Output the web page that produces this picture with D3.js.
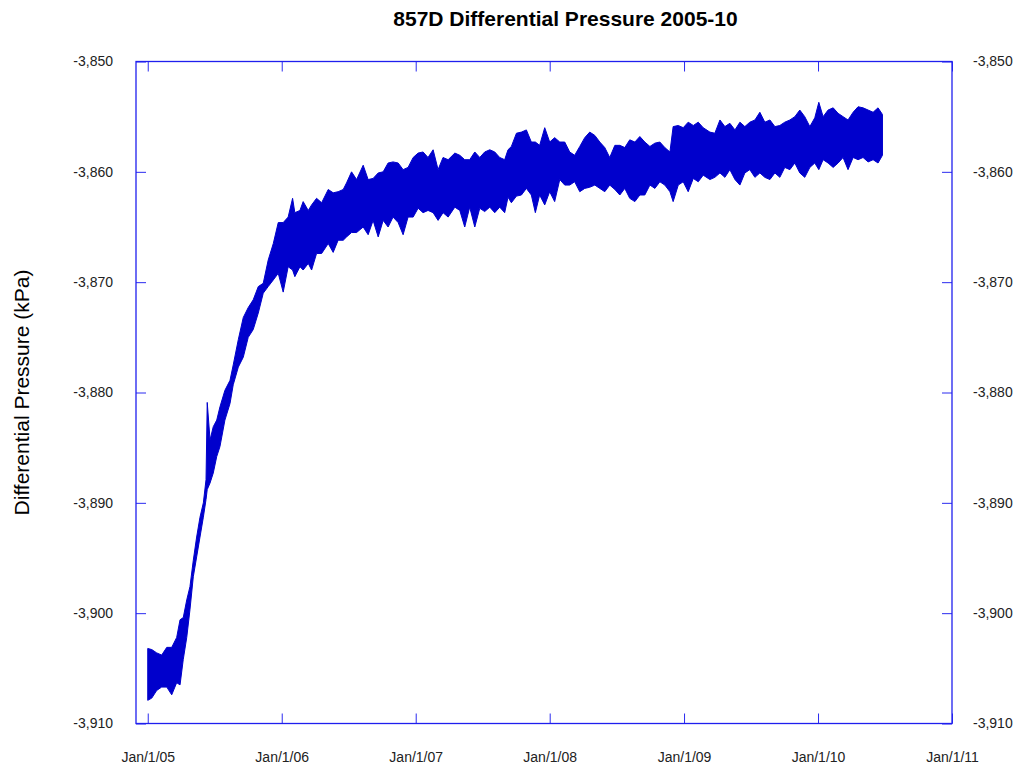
<!DOCTYPE html>
<html>
<head>
<meta charset="utf-8">
<script src="https://cdn.jsdelivr.net/npm/d3@7"></script>
<style>
  body { margin: 0; background: #fff; }
  text { font-family: "Liberation Sans", Arial, sans-serif; }
</style>
</head>
<body>
<div id="chart"></div>
<script>
// decimal years of each reading, with the band's upper / lower edge (kPa)
const years = [
  2005.000, 2005.030, 2005.067, 2005.104, 2005.142, 2005.179, 2005.216, 2005.241, 2005.265, 2005.291,
  2005.315, 2005.340, 2005.365, 2005.390, 2005.415, 2005.435, 2005.444, 2005.465, 2005.489, 2005.515,
  2005.539, 2005.576, 2005.614, 2005.638, 2005.676, 2005.713, 2005.750, 2005.787, 2005.825, 2005.862,
  2005.899, 2005.937, 2005.974, 2006.011, 2006.048, 2006.081, 2006.098, 2006.136, 2006.160, 2006.198,
  2006.223, 2006.260, 2006.298, 2006.347, 2006.384, 2006.421, 2006.459, 2006.484, 2006.521, 2006.559,
  2006.608, 2006.645, 2006.682, 2006.720, 2006.757, 2006.794, 2006.831, 2006.869, 2006.906, 2006.943,
  2006.981, 2007.018, 2007.055, 2007.092, 2007.130, 2007.167, 2007.204, 2007.242, 2007.292, 2007.329,
  2007.366, 2007.403, 2007.441, 2007.478, 2007.515, 2007.553, 2007.590, 2007.627, 2007.664, 2007.689,
  2007.714, 2007.752, 2007.789, 2007.826, 2007.863, 2007.893, 2007.925, 2007.963, 2008.000, 2008.037,
  2008.075, 2008.112, 2008.149, 2008.186, 2008.224, 2008.261, 2008.298, 2008.336, 2008.373, 2008.410,
  2008.447, 2008.485, 2008.522, 2008.559, 2008.596, 2008.634, 2008.671, 2008.708, 2008.746, 2008.783,
  2008.820, 2008.857, 2008.895, 2008.919, 2008.957, 2008.994, 2009.031, 2009.069, 2009.106, 2009.143,
  2009.193, 2009.230, 2009.268, 2009.305, 2009.342, 2009.380, 2009.417, 2009.454, 2009.491, 2009.529,
  2009.566, 2009.603, 2009.641, 2009.678, 2009.715, 2009.752, 2009.790, 2009.827, 2009.864, 2009.901,
  2009.939, 2009.976, 2010.006, 2010.038, 2010.075, 2010.113, 2010.150, 2010.187, 2010.224, 2010.262,
  2010.299, 2010.336, 2010.374, 2010.411, 2010.448, 2010.481
];
const upper = [
  -3903.2, -3903.3, -3903.6, -3903.8, -3903.1, -3903.1, -3902.2, -3900.6, -3900.4, -3898.8,
  -3897.6, -3895.2, -3893.1, -3891.3, -3890.0, -3887.9, -3880.9, -3884.3, -3883.1, -3882.5,
  -3881.3, -3879.8, -3878.9, -3877.5, -3875.2, -3873.2, -3872.3, -3871.6, -3870.4, -3870.1,
  -3868.0, -3866.5, -3864.6, -3864.6, -3864.1, -3862.4, -3863.7, -3863.5, -3862.7, -3863.5,
  -3863.0, -3862.4, -3862.8, -3861.6, -3861.9, -3861.8, -3861.6, -3861.0, -3860.0, -3860.7,
  -3859.4, -3860.7, -3860.6, -3860.1, -3860.0, -3859.2, -3859.1, -3859.2, -3859.8, -3859.6,
  -3858.7, -3858.3, -3858.2, -3858.7, -3858.0, -3859.8, -3858.7, -3858.9, -3858.3, -3858.5,
  -3858.9, -3858.9, -3858.2, -3858.7, -3858.2, -3858.0, -3858.2, -3858.7, -3858.9, -3858.0,
  -3857.7, -3856.5, -3856.4, -3856.2, -3857.3, -3857.3, -3857.6, -3856.0, -3857.3, -3856.9,
  -3857.3, -3857.3, -3858.2, -3858.5, -3857.7, -3856.9, -3856.4, -3856.7, -3857.3, -3857.8,
  -3858.7, -3857.6, -3857.6, -3857.8, -3857.1, -3857.3, -3856.8, -3857.3, -3857.7, -3857.4,
  -3857.3, -3857.8, -3858.2, -3855.9, -3855.8, -3856.0, -3855.5, -3855.8, -3855.5, -3856.0,
  -3856.4, -3856.5, -3855.3, -3855.9, -3855.6, -3856.2, -3855.5, -3855.9, -3855.5, -3855.3,
  -3854.6, -3855.5, -3855.3, -3855.9, -3855.8, -3855.5, -3855.3, -3855.0, -3854.4, -3855.0,
  -3855.9, -3855.1, -3853.7, -3855.0, -3854.4, -3854.2, -3854.7, -3855.0, -3855.3, -3854.6,
  -3854.1, -3854.2, -3854.4, -3854.6, -3854.2, -3854.8
];
const lower = [
  -3907.9, -3907.7, -3907.0, -3906.7, -3906.7, -3907.4, -3906.3, -3906.5, -3904.2, -3902.2,
  -3899.7, -3896.7, -3894.9, -3893.1, -3891.3, -3889.7, -3888.8, -3888.2, -3887.3, -3885.8,
  -3884.9, -3882.5, -3881.0, -3879.3, -3877.7, -3876.8, -3875.0, -3874.3, -3872.8, -3871.0,
  -3870.4, -3869.8, -3869.2, -3870.9, -3868.6, -3868.9, -3869.5, -3868.6, -3868.9, -3868.3,
  -3868.9, -3867.4, -3867.4, -3866.5, -3867.3, -3866.2, -3866.2, -3865.9, -3865.5, -3865.5,
  -3865.0, -3865.7, -3864.4, -3865.9, -3864.4, -3865.0, -3864.1, -3864.6, -3865.7, -3864.1,
  -3864.1, -3863.3, -3863.7, -3863.5, -3863.7, -3864.4, -3863.7, -3864.1, -3863.2, -3863.5,
  -3865.0, -3863.2, -3865.0, -3863.3, -3863.6, -3863.2, -3863.7, -3863.2, -3863.7, -3862.3,
  -3862.8, -3862.2, -3862.1, -3861.5, -3862.1, -3863.7, -3862.1, -3863.0, -3861.8, -3862.7,
  -3860.7, -3861.2, -3861.2, -3860.9, -3861.8, -3861.5, -3861.4, -3861.2, -3861.5, -3861.8,
  -3861.2, -3861.6, -3862.1, -3861.5, -3862.4, -3862.7, -3862.1, -3862.1, -3861.2, -3861.5,
  -3860.9, -3861.2, -3861.8, -3862.7, -3861.2, -3860.9, -3861.8, -3860.6, -3860.9, -3860.3,
  -3860.7, -3860.5, -3860.1, -3860.5, -3859.8, -3860.7, -3861.2, -3860.1, -3859.8, -3860.5,
  -3860.1, -3860.5, -3860.7, -3860.1, -3860.5, -3859.6, -3859.8, -3859.2, -3860.1, -3860.5,
  -3859.6, -3859.2, -3859.8, -3858.9, -3859.2, -3859.6, -3859.2, -3858.7, -3859.8, -3858.7,
  -3858.9, -3858.7, -3859.1, -3858.9, -3859.2, -3858.5
];

const yTicks = [-3910, -3900, -3890, -3880, -3870, -3860, -3850];
const xTickYears = [2005, 2006, 2007, 2008, 2009, 2010, 2011];

const title = "857D Differential Pressure 2005-10";
const yTitle = "Differential Pressure (kPa)";

// decimal year -> Date
const toDate = t => {
  const yr = Math.floor(t);
  const a = new Date(yr, 0, 1), b = new Date(yr + 1, 0, 1);
  return new Date(+a + (t - yr) * (b - a));
};

const data = years.map((t, i) => ({ date: toDate(t), hi: upper[i], lo: lower[i] }));

const W = 1016, H = 767;
const margin = { top: 61.5, right: 64, bottom: 43.5, left: 136 };
const width = W - margin.left - margin.right;
const height = H - margin.top - margin.bottom;

const svg = d3.select("#chart")
  .append("svg")
  .attr("width", W)
  .attr("height", H)
  .style("display", "block");

const g = svg.append("g")
  .attr("transform", `translate(${margin.left}, ${margin.top})`);

const x = d3.scaleTime()
  .domain([new Date(2004, 10, 30), new Date(2011, 0, 1)])
  .range([0, width]);

const y = d3.scaleLinear()
  .domain([-3910, -3850])
  .range([height, 0]);

const fmtY = d3.formatLocale({ decimal: ".", thousands: ",", grouping: [3], currency: ["", ""], minus: "-" }).format(",");
const fmtX = d3.timeFormat("%b/%-d/%y");
const xTicks = xTickYears.map(yr => new Date(yr, 0, 1));

// the data band
g.append("path")
  .datum(data)
  .attr("d", d3.area()
    .x(d => x(d.date))
    .y0(d => y(d.lo))
    .y1(d => y(d.hi)))
  .attr("fill", "#0000cc")
  .attr("stroke", "#0000cc")
  .attr("stroke-width", 1)
  .attr("stroke-linejoin", "miter");

// axes: ticks point inward, labels outside
const styleAxis = sel => {
  sel.select(".domain").remove();
  sel.selectAll(".tick line").attr("stroke", "#2b2bf0");
  sel.selectAll(".tick text")
    .attr("fill", "#222")
    .style("font-size", "14px");
};

g.append("g")
  .attr("transform", `translate(0, ${height})`)
  .call(d3.axisBottom(x).tickValues(xTicks).tickFormat(fmtX).tickSizeInner(-10).tickSizeOuter(0).tickPadding(29))
  .call(styleAxis);

g.append("g")
  .call(d3.axisTop(x).tickValues(xTicks).tickFormat("").tickSizeInner(-10).tickSizeOuter(0))
  .call(styleAxis);

g.append("g")
  .call(d3.axisLeft(y).tickValues(yTicks).tickFormat(fmtY).tickSizeInner(-10).tickSizeOuter(0).tickPadding(23))
  .call(styleAxis);

g.append("g")
  .attr("transform", `translate(${width}, 0)`)
  .call(d3.axisRight(y).tickValues(yTicks).tickFormat(fmtY).tickSizeInner(-10).tickSizeOuter(0).tickPadding(21))
  .call(styleAxis);

// plot frame
g.append("rect")
  .attr("x", 0)
  .attr("y", 0)
  .attr("width", width)
  .attr("height", height)
  .attr("fill", "none")
  .attr("stroke", "#1f1fee")
  .attr("stroke-width", 1.3);

svg.append("text")
  .attr("x", 565.5)
  .attr("y", 26)
  .attr("text-anchor", "middle")
  .style("font-size", "21px")
  .style("font-weight", "bold")
  .style("fill", "#000")
  .text(title);

svg.append("text")
  .attr("transform", `translate(29, ${margin.top + height / 2}) rotate(-90)`)
  .attr("text-anchor", "middle")
  .style("font-size", "21px")
  .style("fill", "#000")
  .text(yTitle);
</script>
</body>
</html>
